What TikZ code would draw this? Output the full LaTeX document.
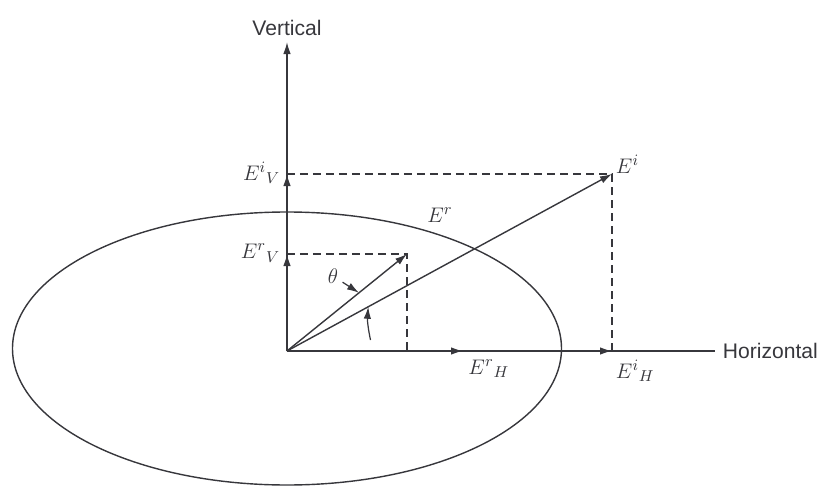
\documentclass[tikz,border=0pt]{standalone}
\usepackage{fontspec}
\setsansfont{Liberation Sans}
\usepackage{xcolor}
\usepackage{tikz}
\usetikzlibrary{arrows.meta,positioning,calc}
\definecolor{inkgray}{RGB}{55,55,60}

\begin{document}
\begin{tikzpicture}[
  axis/.style={draw=inkgray,line width=0.8pt},
  vec/.style={draw=inkgray,line width=0.8pt,-{Latex[length=2.4mm,width=1.5mm]}},
  proj/.style={draw=inkgray,line width=0.7pt,dash pattern=on 1.6mm off 1mm},
  curve/.style={draw=inkgray,line width=0.8pt},
  axlabel/.style={font=\sffamily\fontsize{12}{14}\selectfont,text=inkgray},
  mlabel/.style={font=\fontsize{13}{15}\selectfont,text=inkgray,inner sep=1.5pt}
]
  \useasboundingbox (-5.74,-2.70) rectangle (10.82,7.02);
  % Points
  \coordinate (O) at (0,0);
  \coordinate (vtip) at (0,6.18);
  \coordinate (hend) at (8.56,0);
  \coordinate (Ei) at (6.5,3.54);
  \coordinate (Er) at (2.4,1.94);
  \coordinate (EiV) at (0,3.54);
  \coordinate (ErV) at (0,1.94);
  \coordinate (EiH) at (6.5,0);
  \coordinate (ErH) at (3.52,0);
  \coordinate (ErF) at (2.4,0);
  % Polarisation ellipse
  \draw[curve] (0,0.05) ellipse (5.49 and 2.73);
  % Axes
  \draw[vec] (O) -- (vtip);
  \draw[axis] (O) -- (hend);
  \node[axlabel,above=0pt of vtip] (vert) {Vertical};
  \node[axlabel,right=1pt of hend] (horiz) {Horizontal};
  % Components on the axes
  \draw[vec] (O) -- (EiV);
  \draw[vec] (O) -- (ErV);
  \draw[vec] (O) -- (EiH);
  \draw[vec] (O) -- (ErH);
  % Projections
  \draw[proj] (EiV) -- (Ei) -- (EiH);
  \draw[proj] (ErV) -- (Er) -- (ErF);
  % Field vectors
  \draw[vec] (O) -- (Ei);
  \draw[vec] (O) -- (Er);
  % Labels
  \node[mlabel,anchor=south west] (lEi) at ($(Ei)+(0.02,-0.05)$) {$E^{i}$};
  \node[mlabel] (lEr) at (3.06,2.72) {$E^{r}$};
  \node[mlabel,anchor=east] (lEiV) at ($(EiV)+(-0.08,0.02)$) {${E^{i}}_{V}$};
  \node[mlabel,anchor=east] (lErV) at ($(ErV)+(-0.08,0.02)$) {${E^{r}}_{V}$};
  \node[mlabel,anchor=north west] (lErH) at ($(ErH)+(0.05,-0.12)$) {${E^{r}}_{H}$};
  \node[mlabel,anchor=north west] (lEiH) at ($(EiH)+(0.02,-0.12)$) {${E^{i}}_{H}$};
  % Angle marks
  \node[mlabel] (theta) at (0.92,1.5) {$\theta$};
  \coordinate (onEr) at ($(O)!0.6!(Er)$);
  \coordinate (onEi) at ($(O)!0.25!(Ei)$);
  \coordinate (arcfoot) at (1.67,0.22);
  \draw[vec,line width=0.7pt,shorten <=1pt] (theta) -- (onEr);
  \draw[vec,line width=0.7pt] (arcfoot) to[bend left=8] (onEi);
\end{tikzpicture}
\end{document}
